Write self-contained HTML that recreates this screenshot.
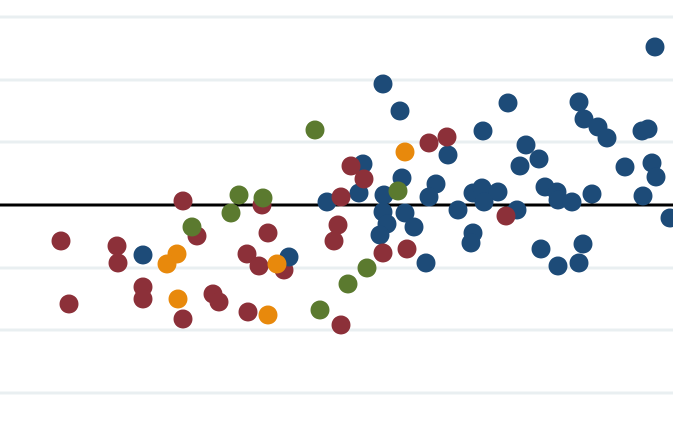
<!DOCTYPE html>
<html><head><style>html,body{margin:0;padding:0;background:#fff}svg{display:block}</style></head>
<body>
<svg width="673" height="423" viewBox="0 0 673 423" xmlns="http://www.w3.org/2000/svg">
<g stroke="#e9eff1" stroke-width="3">
<line x1="0" x2="673" y1="17" y2="17"/><line x1="0" x2="673" y1="80" y2="80"/><line x1="0" x2="673" y1="142" y2="142"/>
<line x1="0" x2="673" y1="268" y2="268"/><line x1="0" x2="673" y1="330" y2="330"/><line x1="0" x2="673" y1="393" y2="393"/>
</g>
<line x1="0" x2="673" y1="205" y2="205" stroke="#000" stroke-width="3"/>
<g fill="#8c3039">
<circle cx="183" cy="201" r="9.5"/><circle cx="262" cy="205" r="9.5"/><circle cx="197" cy="236" r="9.5"/><circle cx="268" cy="233" r="9.5"/>
<circle cx="61" cy="241" r="9.5"/><circle cx="117" cy="246" r="9.5"/><circle cx="118" cy="263" r="9.5"/><circle cx="247" cy="254" r="9.5"/>
<circle cx="259" cy="266" r="9.5"/><circle cx="284" cy="270" r="9.5"/><circle cx="143" cy="287" r="9.5"/><circle cx="143" cy="299" r="9.5"/>
<circle cx="69" cy="304" r="9.5"/><circle cx="213" cy="294" r="9.5"/><circle cx="219" cy="302" r="9.5"/><circle cx="183" cy="319" r="9.5"/>
<circle cx="248" cy="312" r="9.5"/><circle cx="341" cy="325" r="9.5"/>
</g>
<g fill="#1d4b78">
<circle cx="143" cy="255" r="9.5"/><circle cx="289" cy="257" r="9.5"/><circle cx="655" cy="47" r="9.5"/>
<circle cx="383" cy="84" r="9.5"/><circle cx="400" cy="111" r="9.5"/><circle cx="508" cy="103" r="9.5"/><circle cx="579" cy="102" r="9.5"/>
<circle cx="584" cy="119" r="9.5"/><circle cx="598" cy="127" r="9.5"/><circle cx="607" cy="138" r="9.5"/><circle cx="642" cy="131" r="9.5"/>
<circle cx="648" cy="129" r="9.5"/><circle cx="483" cy="131" r="9.5"/><circle cx="448" cy="155" r="9.5"/><circle cx="526" cy="145" r="9.5"/>
<circle cx="539" cy="159" r="9.5"/><circle cx="520" cy="166" r="9.5"/><circle cx="625" cy="167" r="9.5"/><circle cx="652" cy="163" r="9.5"/>
<circle cx="656" cy="177" r="9.5"/><circle cx="363" cy="164" r="9.5"/><circle cx="402" cy="178" r="9.5"/><circle cx="359" cy="193" r="9.5"/>
<circle cx="327" cy="202" r="9.5"/><circle cx="384" cy="195" r="9.5"/><circle cx="436" cy="184" r="9.5"/><circle cx="429" cy="197" r="9.5"/>
<circle cx="545" cy="187" r="9.5"/><circle cx="557" cy="192" r="9.5"/><circle cx="473" cy="193" r="9.5"/><circle cx="482" cy="188" r="9.5"/>
<circle cx="498" cy="192" r="9.5"/><circle cx="484" cy="202" r="9.5"/><circle cx="558" cy="200" r="9.5"/><circle cx="572" cy="202" r="9.5"/>
<circle cx="592" cy="194" r="9.5"/><circle cx="643" cy="196" r="9.5"/><circle cx="458" cy="210" r="9.5"/><circle cx="517" cy="210" r="9.5"/>
<circle cx="670" cy="218" r="9.5"/><circle cx="383" cy="212" r="9.5"/><circle cx="405" cy="213" r="9.5"/><circle cx="387" cy="224" r="9.5"/>
<circle cx="414" cy="227" r="9.5"/><circle cx="380" cy="235" r="9.5"/><circle cx="473" cy="233" r="9.5"/><circle cx="471" cy="243" r="9.5"/>
<circle cx="426" cy="263" r="9.5"/><circle cx="541" cy="249" r="9.5"/><circle cx="583" cy="244" r="9.5"/><circle cx="558" cy="266" r="9.5"/>
<circle cx="579" cy="263" r="9.5"/>
</g>
<g fill="#8c3039">
<circle cx="429" cy="143" r="9.5"/><circle cx="447" cy="137" r="9.5"/><circle cx="351" cy="166" r="9.5"/><circle cx="364" cy="179" r="9.5"/>
<circle cx="341" cy="197" r="9.5"/><circle cx="506" cy="216" r="9.5"/><circle cx="338" cy="225" r="9.5"/><circle cx="334" cy="241" r="9.5"/>
<circle cx="383" cy="253" r="9.5"/><circle cx="407" cy="249" r="9.5"/>
</g>
<g fill="#5b7a2f">
<circle cx="239" cy="195" r="9.5"/><circle cx="263" cy="198" r="9.5"/><circle cx="231" cy="213" r="9.5"/><circle cx="192" cy="227" r="9.5"/>
<circle cx="320" cy="310" r="9.5"/><circle cx="315" cy="130" r="9.5"/><circle cx="398" cy="191" r="9.5"/><circle cx="367" cy="268" r="9.5"/>
<circle cx="348" cy="284" r="9.5"/>
</g>
<g fill="#e8890c">
<circle cx="177" cy="254" r="9.5"/><circle cx="167" cy="264" r="9.5"/><circle cx="277" cy="264" r="9.5"/><circle cx="178" cy="299" r="9.5"/>
<circle cx="268" cy="315" r="9.5"/><circle cx="405" cy="152" r="9.5"/>
</g>
</svg>
</body></html>
